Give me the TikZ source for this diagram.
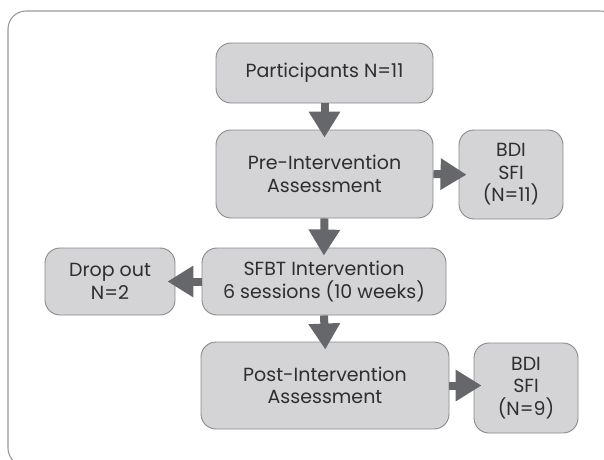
\documentclass[tikz,border=0pt]{standalone}
\usepackage{fontspec}
\setmainfont{Poppins}
\usetikzlibrary{arrows.meta}
\definecolor{boxfill}{HTML}{D4D4D6}
\definecolor{boxline}{HTML}{8A8A8C}
\definecolor{arrowgray}{HTML}{66676A}
\definecolor{textgray}{HTML}{2E2E30}
\definecolor{framegray}{HTML}{9A9A9A}
\tikzset{
  flowbox/.style={draw=boxline, fill=boxfill, line width=0.9pt, rounded corners=15pt,
    align=center, inner sep=0pt, text=textgray,
    font=\fontsize{19}{22.5}\selectfont},
  blockarrow/.style={draw=arrowgray, line width=8pt,
    -{Triangle[length=26pt,width=30pt]}, shorten >=-8pt}
}
\begin{document}
\begin{tikzpicture}[x=1pt,y=-1pt]
  \useasboundingbox (0,0) rectangle (604,459);
  \clip (0,0) rectangle (604,459);
  % outer frame
  \draw[framegray, line width=1.1pt, rounded corners=18pt] (8,11) rectangle (618,466);
  % boxes
  \node[flowbox, minimum width=217pt, minimum height=60pt] (part) at (324.5,73) {Participants N=11};
  \node[flowbox, minimum width=217pt, minimum height=88pt] (pre) at (324.5,174) {Pre-Intervention\\Assessment};
  \node[flowbox, minimum width=104pt, minimum height=89pt] (bdia) at (511,174.5) {BDI\\SFI\\(N=11)};
  \node[flowbox, minimum width=244pt, minimum height=67pt] (sfbt) at (324,281.5) {SFBT Intervention\\6 sessions (10 weeks)};
  \node[flowbox, minimum width=130pt, minimum height=67pt] (drop) at (110,281.5) {Drop out\\N=2};
  \node[flowbox, minimum width=248pt, minimum height=87pt] (post) at (325,385.5) {Post-Intervention\\Assessment};
  \node[flowbox, minimum width=104pt, minimum height=90pt] (bdib) at (526,388) {BDI\\SFI\\(N=9)};
  % connectors
  \draw[blockarrow] (part.south) -- (pre.north);
  \draw[blockarrow] (pre.east) -- (bdia.west);
  \draw[blockarrow] (pre.south) -- (sfbt.north);
  \draw[blockarrow] (sfbt.west) -- (drop.east);
  \draw[blockarrow] (sfbt.south) -- (post.north);
  \draw[blockarrow] (post.east) -- (post.east -| bdib.west);
\end{tikzpicture}
\end{document}
